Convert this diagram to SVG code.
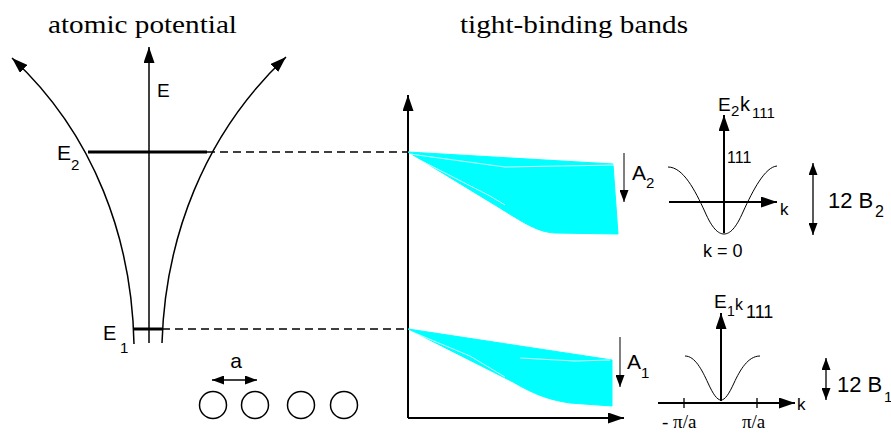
<svg xmlns="http://www.w3.org/2000/svg" width="891" height="435" viewBox="0 0 891 435">
<defs>
<style>
.ln{fill:none;stroke:#000;stroke-width:1.5}
.ax{fill:none;stroke:#000;stroke-width:2}
.dash{fill:none;stroke:#000;stroke-width:1.3;stroke-dasharray:8 5}
.band{fill:#00ffff;stroke:#00ffff;stroke-width:1}
.streak{fill:none;stroke:#fff;stroke-width:0.8}
.t{font-family:"Liberation Sans",Arial,sans-serif;fill:#000}
.s{font-family:"Liberation Serif","Times New Roman",serif;fill:#000}
</style>
<marker id="ah" markerWidth="16" markerHeight="11" refX="16" refY="5.5" orient="auto" markerUnits="userSpaceOnUse"><path d="M0,0 L16,5.5 L0,11 z" fill="#000"/></marker>
<marker id="as" markerWidth="12" markerHeight="9" refX="12" refY="4.5" orient="auto-start-reverse" markerUnits="userSpaceOnUse"><path d="M0,0 L12,4.5 L0,9 z" fill="#000"/></marker>
</defs>
<rect width="891" height="435" fill="#fff"/>

<g id="titles">
<text class="s" x="48" y="33" font-size="26" textLength="189" lengthAdjust="spacingAndGlyphs">atomic potential</text>
<text class="s" x="460" y="33" font-size="26" textLength="228" lengthAdjust="spacingAndGlyphs">tight-binding bands</text>
</g>

<g id="atomic-potential">
<path class="ln" d="M149,343 L149,47" marker-end="url(#ah)"/>
<text class="t" x="157" y="97" font-size="19">E</text>
<path class="ln" d="M134,344 C132,240 95,135 12,58" marker-end="url(#ah)"/>
<path class="ln" d="M162,343 C165,240 203,135 286,57" marker-end="url(#ah)"/>
<line x1="88" y1="152" x2="207" y2="152" stroke="#000" stroke-width="3"/>
<line x1="134" y1="329" x2="162" y2="329" stroke="#000" stroke-width="3"/>
<text class="t" x="57" y="160" font-size="21">E</text>
<text class="t" x="71" y="170" font-size="15">2</text>
<text class="t" x="103" y="340" font-size="20">E</text>
<text class="t" x="120" y="353" font-size="15">1</text>
</g>

<g id="lattice">
<text class="t" x="236" y="368" font-size="21" text-anchor="middle">a</text>
<line x1="212" y1="380" x2="257" y2="380" stroke="#000" stroke-width="1.5" marker-start="url(#as)" marker-end="url(#as)"/>
<circle class="ln" cx="213" cy="405" r="13.5"/>
<circle class="ln" cx="255" cy="405" r="13.5"/>
<circle class="ln" cx="301" cy="405" r="13.5"/>
<circle class="ln" cx="344" cy="405" r="13.5"/>
</g>

<g id="connectors">
<line class="dash" x1="207" y1="152" x2="408" y2="152"/>
<line class="dash" x1="162" y1="329" x2="408" y2="329"/>
</g>

<g id="bands">
<path class="ax" d="M408,418 L408,95" marker-end="url(#ah)"/>
<path class="ax" d="M408,418 L624,418" marker-end="url(#ah)"/>
<path class="band" d="M408,152 L613,164 L618,234 L555,233 C535,232 520,220 490,202 Z"/>
<path class="streak" d="M410,154 L505,167 L615,165"/>
<path class="streak" d="M410,155 L490,196 L505,205"/>
<path class="band" d="M408,329 L612,360 L612,406 L570,403 C550,400 535,395 513,382 Z"/>
<path class="streak" d="M410,331 L470,356 L505,377"/>
<path class="streak" d="M520,358 L575,361 L610,360"/>
<line x1="624" y1="153" x2="624" y2="202" stroke="#000" stroke-width="1" marker-end="url(#as)"/>
<text class="t" x="632" y="180" font-size="21">A</text>
<text class="t" x="646" y="188" font-size="15">2</text>
<line x1="620" y1="337" x2="620" y2="387" stroke="#000" stroke-width="1" marker-end="url(#as)"/>
<text class="t" x="627" y="369" font-size="21">A</text>
<text class="t" x="641" y="378" font-size="15">1</text>
</g>

<g id="dispersion-2">
<path class="ax" d="M724,233 L724,115" marker-end="url(#ah)"/>
<path class="ax" d="M669,202 L777,202" marker-end="url(#ah)"/>
<path fill="none" stroke="#000" stroke-width="1" d="M668,167 C683,167 695,190 705,212 C712,228 718,234 724,234 C730,234 736,228 743,212 C753,190 765,167 777,166"/>
<text class="t" x="718" y="111" font-size="19">E</text>
<text class="t" x="731" y="116" font-size="15">2</text>
<text class="t" x="740" y="111" font-size="20">k</text>
<text class="t" x="752" y="118" font-size="15">111</text>
<text class="t" x="727" y="163" font-size="16">111</text>
<text class="t" x="780" y="215" font-size="17">k</text>
<text class="t" x="703" y="257" font-size="18">k = 0</text>
<line x1="813" y1="163" x2="813" y2="235" stroke="#000" stroke-width="1.3" marker-start="url(#as)" marker-end="url(#as)"/>
<text class="t" x="828" y="208" font-size="22">12 B</text>
<text class="t" x="875" y="217" font-size="16">2</text>
</g>

<g id="dispersion-1">
<path class="ax" d="M721,401 L721,313" marker-end="url(#ah)"/>
<path class="ax" d="M658,403 L795,403" marker-end="url(#ah)"/>
<line x1="684" y1="398" x2="684" y2="408" stroke="#000" stroke-width="1.3"/>
<line x1="757" y1="398" x2="757" y2="408" stroke="#000" stroke-width="1.3"/>
<path fill="none" stroke="#000" stroke-width="1" d="M685,356 C695,356 702,370 708,383 C713,394 717,400 721,400 C725,400 729,394 734,383 C740,370 748,356 760,356"/>
<text class="t" x="714" y="308" font-size="19">E</text>
<text class="t" x="727" y="316" font-size="14">1</text>
<text class="t" x="735" y="310" font-size="16">k</text>
<text class="t" x="746" y="318" font-size="18">111</text>
<text class="t" x="797" y="410" font-size="17">k</text>
<text class="s" x="662" y="428" font-size="19">- π/a</text>
<text class="s" x="742" y="428" font-size="19">π/a</text>
<line x1="826" y1="358" x2="826" y2="400" stroke="#000" stroke-width="1.3" marker-start="url(#as)" marker-end="url(#as)"/>
<text class="t" x="837" y="392" font-size="22">12 B</text>
<text class="t" x="884" y="402" font-size="15">1</text>
</g>
</svg>
